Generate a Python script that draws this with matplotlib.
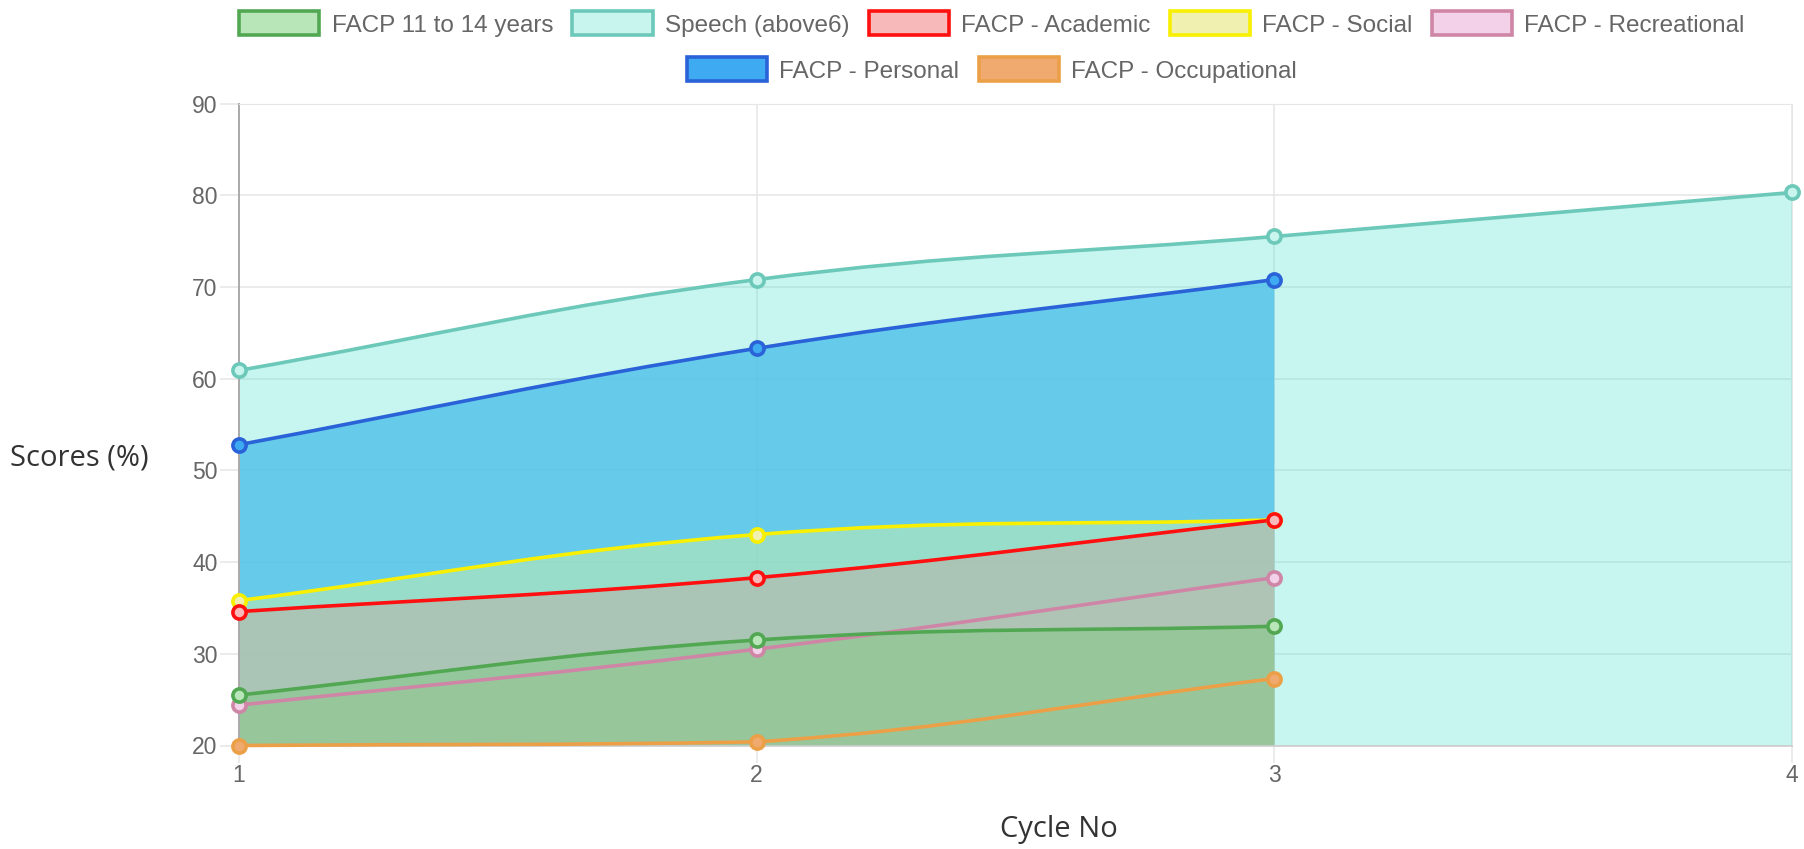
import numpy as np
import matplotlib.pyplot as plt
from matplotlib.path import Path
from matplotlib.patches import PathPatch, Patch

# data
cycles = [1, 2, 3, 4]
series_names = ["FACP 11 to 14 years", "Speech (above6)", "FACP - Academic",
                "FACP - Social", "FACP - Recreational", "FACP - Personal",
                "FACP - Occupational"]
facp_11_14 = [25.5, 31.5, 33.0]
speech_above6 = [60.9, 70.8, 75.5, 80.3]
facp_academic = [34.6, 38.3, 44.6]
facp_social = [35.8, 43.0, 44.6]
facp_recreational = [24.4, 30.5, 38.3]
facp_personal = [52.8, 63.3, 70.8]
facp_occupational = [20.0, 20.4, 27.3]
y_ticks = [20, 30, 40, 50, 60, 70, 80, 90]

series = [facp_11_14, speech_above6, facp_academic, facp_social,
          facp_recreational, facp_personal, facp_occupational]

line_colors = ["#52a852", "#6cc9b9", "#ff1010", "#f8f000", "#cf86a6", "#2a62d8", "#eba048"]
face_colors = ["#b8e6b8", "#c9f5ef", "#f7b9b9", "#f0f0b0", "#f3d1e8", "#3daaf2", "#f0aa70"]
fill_colors = [(100/255, 205/255, 100/255, 0.30), (72/255, 222/255, 205/255, 0.30),
               (250/255, 140/255, 130/255, 0.42), (240/255, 240/255, 170/255, 0.58),
               (243/255, 190/255, 220/255, 0.25), (80/255, 180/255, 246/255, 0.80),
               (240/255, 170/255, 112/255, 0.50)]


def spline_path(ax, xs, ys, tension=0.4, base=None):
    # chart.js style bezier through the points, built in pixel space
    pts = ax.transData.transform(np.column_stack([xs, ys]))
    box = ax.bbox
    n = len(pts)
    cp_prev, cp_next = [], []
    for i in range(n):
        cur = pts[i]
        prev = pts[i - 1] if i > 0 else cur
        nxt = pts[i + 1] if i < n - 1 else cur
        d01 = np.hypot(*(cur - prev))
        d12 = np.hypot(*(nxt - cur))
        tot = d01 + d12
        s01 = d01 / tot if tot else 0
        s12 = d12 / tot if tot else 0
        cp_prev.append(cur - tension * s01 * (nxt - prev))
        cp_next.append(cur + tension * s12 * (nxt - prev))
    # keep control points inside the plot area
    for cp in cp_prev + cp_next:
        cp[0] = min(max(cp[0], box.x0), box.x1)
        cp[1] = min(max(cp[1], box.y0), box.y1)
    verts = [pts[0]]
    codes = [Path.MOVETO]
    for i in range(n - 1):
        verts += [cp_next[i], cp_prev[i + 1], pts[i + 1]]
        codes += [Path.CURVE4] * 3
    verts = list(ax.transData.inverted().transform(np.array(verts)))
    if base is not None:
        verts += [(xs[-1], base), (xs[0], base), (xs[0], base)]
        codes += [Path.LINETO, Path.LINETO, Path.CLOSEPOLY]
    return Path(np.array(verts), codes)


fig = plt.figure(figsize=(18.04, 8.49), dpi=100)
ax = fig.add_axes([239 / 1804, 1 - 745.5 / 849, 1553 / 1804, 642 / 849])
ax.set_xlim(1, 4)
ax.set_ylim(20, 90)

# fills first (last dataset at the bottom), then the lines
for i in reversed(range(len(series))):
    ys = series[i]
    xs = cycles[:len(ys)]
    ax.add_patch(PathPatch(spline_path(ax, xs, ys, base=20), facecolor=fill_colors[i],
                           edgecolor="none", zorder=2))

for i in reversed(range(len(series))):
    ys = series[i]
    xs = cycles[:len(ys)]
    ax.add_patch(PathPatch(spline_path(ax, xs, ys), facecolor="none", clip_on=False,
                           edgecolor=line_colors[i], linewidth=2.6, zorder=3, capstyle="round"))
    ax.plot(xs, ys, linestyle="none", marker="o", markersize=9.5, markeredgewidth=2.6,
            markeredgecolor=line_colors[i], markerfacecolor=face_colors[i], zorder=4, clip_on=False)

ax.set_xticks(cycles)
ax.set_yticks(y_ticks)
ax.grid(True, color="#e6e6e6", linewidth=1.1)
ax.set_axisbelow(True)
ax.tick_params(axis="y", length=14, width=1.1, color="#e6e6e6", pad=1.5, labelsize=16.5, labelcolor="#666666")
ax.tick_params(axis="x", length=12, width=1.1, color="#e6e6e6", pad=1, labelsize=16.5, labelcolor="#666666")
for lab in ax.get_xticklabels() + ax.get_yticklabels():
    lab.set_family("Liberation Sans")
ax.spines["left"].set_color("#aaaaaa")
ax.spines["left"].set_linewidth(1.4)
ax.spines["bottom"].set_color("#cccccc")
ax.spines["bottom"].set_linewidth(1.2)
ax.spines["top"].set_color("#e6e6e6")
ax.spines["right"].set_color("#e6e6e6")

fig.text(79 / 1804, 1 - 458 / 849, "Scores (%)", fontsize=21, family="Open Sans",
         color="#333333", ha="center", va="center")
fig.text(1059 / 1804, 1 - 830 / 849, "Cycle No", fontsize=21, family="Open Sans",
         color="#333333", ha="center", va="center")

handles = [Patch(facecolor=face_colors[i], edgecolor=line_colors[i], linewidth=2.6,
                 label=series_names[i]) for i in range(len(series))]
leg_kw = dict(frameon=False, handlelength=3.3, handleheight=1.15, handletextpad=0.5,
              columnspacing=0.8, prop={"family": "Liberation Sans", "size": 17.5}, labelcolor="#666666",
              borderaxespad=0, borderpad=0)
fig.legend(handles=handles[:5], ncol=5, loc="center", bbox_to_anchor=(992 / 1804, 1 - 24 / 849), **leg_kw)
fig.legend(handles=handles[5:], ncol=2, loc="center", bbox_to_anchor=(992 / 1804, 1 - 70 / 849), **leg_kw)

fig.savefig("out.png", dpi=100)
